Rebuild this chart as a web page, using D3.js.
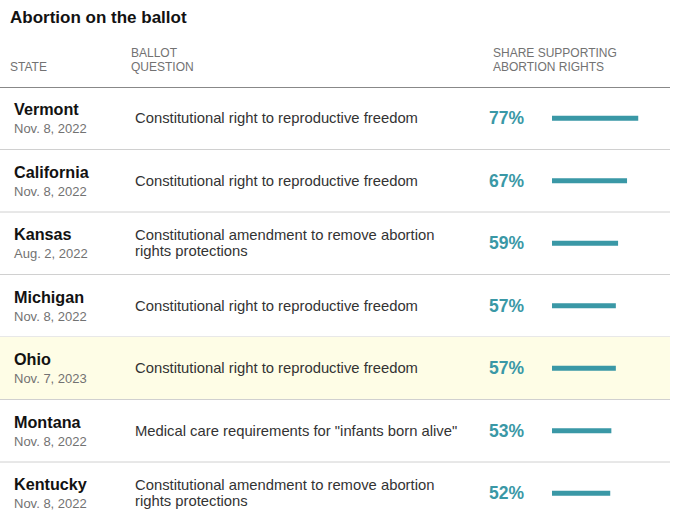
<!DOCTYPE html>
<html lang="en">
<head>
<meta charset="UTF-8">
<title>Abortion on the ballot</title>
<script src="https://d3js.org/d3.v7.min.js"></script>
<style>
  body, html { margin: 0; padding: 0; background: #fff; }
  svg { display: block; font-family: "Liberation Sans", Arial, sans-serif; }
  .title { font-size: 17px; font-weight: bold; fill: #121212; }
  .head { font-size: 12px; fill: #727272; }
  .state { font-size: 16.2px; font-weight: bold; fill: #121212; }
  .date { font-size: 13px; fill: #727272; }
  .question { font-size: 14.8px; fill: #333; }
  .pct { font-size: 17.5px; font-weight: bold; fill: #3a98a6; }
</style>
</head>
<body>
<svg width="695" height="532"></svg>
<script>
// table data
const states = ['Vermont', 'California', 'Kansas', 'Michigan', 'Ohio', 'Montana', 'Kentucky'];
const dates = ['Nov. 8, 2022', 'Nov. 8, 2022', 'Aug. 2, 2022', 'Nov. 8, 2022', 'Nov. 7, 2023', 'Nov. 8, 2022', 'Nov. 8, 2022'];
const questions = [
  ['Constitutional right to reproductive freedom'],
  ['Constitutional right to reproductive freedom'],
  ['Constitutional amendment to remove abortion', 'rights protections'],
  ['Constitutional right to reproductive freedom'],
  ['Constitutional right to reproductive freedom'],
  ['Medical care requirements for "infants born alive"'],
  ['Constitutional amendment to remove abortion', 'rights protections']
];
const shares = [77, 67, 59, 57, 57, 53, 52];
const highlighted = 'Ohio';

const svg = d3.select('svg');
const tableWidth = 670;

// rows
const y = d3.scaleBand().domain(states).range([87, 87 + 62.5 * states.length]);
const x = d3.scaleLinear().domain([0, 100]).range([0, 112]);
const barX = 552;

svg.append('text').attr('class', 'title').attr('x', 10).attr('y', 23).text('Abortion on the ballot');

// column headers
const heads = [
  { x: 10, lines: ['STATE'] },
  { x: 131, lines: ['BALLOT', 'QUESTION'] },
  { x: 493, lines: ['SHARE SUPPORTING', 'ABORTION RIGHTS'] }
];
heads.forEach(h => {
  const t = svg.append('text').attr('class', 'head').attr('x', h.x).attr('y', 71 - 14 * (h.lines.length - 1));
  h.lines.forEach((l, i) => t.append('tspan').attr('x', h.x).attr('dy', i ? 14 : 0).text(l));
});

const rows = svg.append('g').selectAll('g')
  .data(states.map((s, i) => ({ state: s, date: dates[i], q: questions[i], v: shares[i] })))
  .join('g')
  .attr('transform', d => `translate(0,${y(d.state)})`);

const h = y.bandwidth();

rows.filter(d => d.state === highlighted).append('rect')
  .attr('x', 0).attr('y', 0).attr('width', tableWidth).attr('height', h)
  .attr('fill', '#fefde6');

rows.append('text').attr('class', 'state').attr('x', 14).attr('y', h / 2 - 3).text(d => d.state);
rows.append('text').attr('class', 'date').attr('x', 14).attr('y', h / 2 + 15).text(d => d.date);

rows.append('text').attr('class', 'question')
  .attr('y', d => d.q.length > 1 ? h / 2 - 3 : h / 2 + 5)
  .selectAll('tspan').data(d => d.q).join('tspan')
  .attr('x', 135).attr('dy', (d, i) => i ? 16 : 0).text(d => d);

rows.append('text').attr('class', 'pct').attr('x', 524).attr('text-anchor', 'end')
  .attr('y', h / 2 + 6).text(d => d.v + '%');

rows.append('rect').attr('x', barX).attr('y', h / 2 - 2.5)
  .attr('width', d => x(d.v)).attr('height', 5).attr('fill', '#3a98a6');

// separators
rows.filter((d, i) => i < states.length - 1).append('line')
  .attr('x1', 0).attr('x2', tableWidth).attr('y1', h).attr('y2', h)
  .attr('stroke', '#d0d0d0').attr('stroke-width', 1);

svg.append('line').attr('x1', 0).attr('x2', tableWidth).attr('y1', 87.5).attr('y2', 87.5)
  .attr('stroke', '#888').attr('stroke-width', 1.2);
</script>
</body>
</html>
